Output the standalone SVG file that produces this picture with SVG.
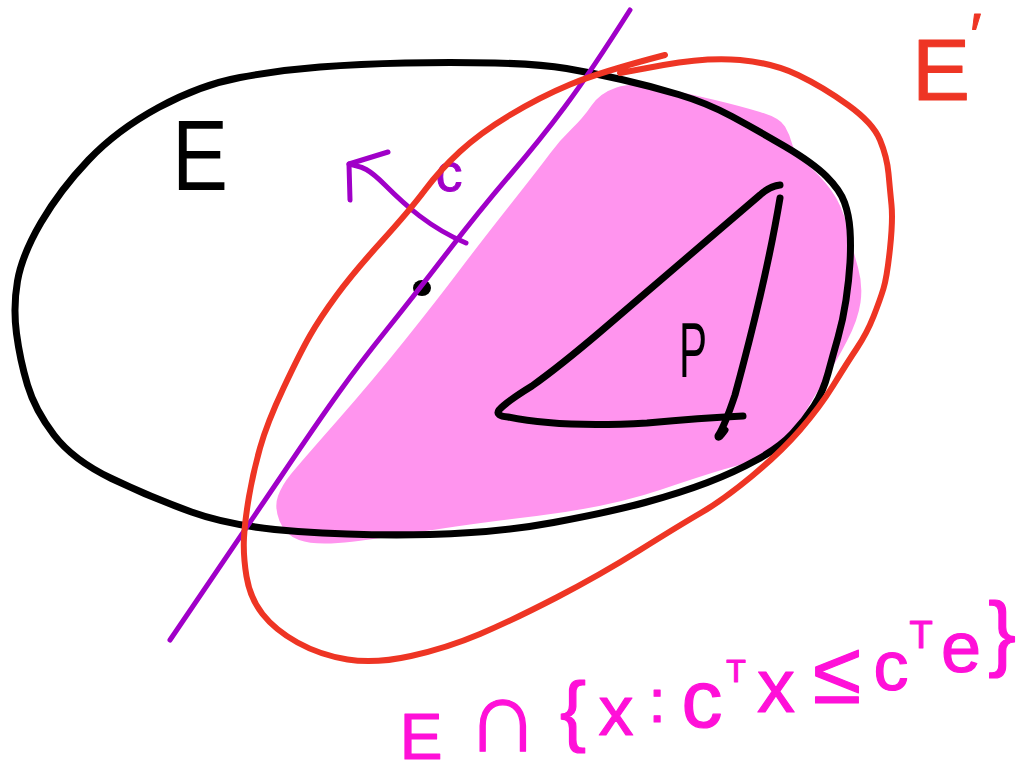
<svg xmlns="http://www.w3.org/2000/svg" width="1030" height="774" viewBox="0 0 1030 774">
<style>
.ink{fill:none;stroke-linecap:round;stroke-linejoin:round}
.blk{stroke:#000;stroke-width:7}
.red{stroke:#ee3524;stroke-width:6}
.pur{stroke:#a000c8;stroke-width:5}
.t{font-family:"Liberation Sans",Arial,sans-serif;stroke-linejoin:round}
.mag{fill:#ff10d8;stroke:#ff10d8;stroke-width:1.2}
</style>
<rect width="1030" height="774" fill="#fff"/>
<g id="region-pink">
<path fill="#ff94ee" d="M 591.5,105.5 Q 600,93 616.5,87.5 Q 633,82 661.5,88 Q 690,94 715,100 Q 740,106 760,112 Q 780,118 785,126.5 Q 790,135 792.5,145 Q 795,155 807.5,165 Q 820,175 831,190 Q 842,205 847.5,227.5 Q 853,250 858,267.5 Q 863,285 860.5,302.5 Q 858,320 847,341 Q 836,362 825.5,378.5 Q 815,395 805,412.5 Q 795,430 780,444 Q 765,458 739,465 Q 713,472 661.5,489.5 Q 610,507 536.5,516 Q 463,525 413,533 Q 363,541 338,543 Q 313,545 299,540 Q 285,535 279.5,521 Q 274,507 278,496 Q 282,485 291,474 Q 300,463 336.5,421.5 Q 373,380 405,340 Q 437,300 458.5,271.5 Q 480,243 510,205 Q 540,167 550,153.5 Q 560,140 571.5,129 Q 583,118 591.5,105.5 Z"/>
</g>
<g id="ellipse-E">
<path class="ink blk" d="M 621.5,79.5 Q 650,86 678.5,94.5 Q 707,103 732,116.5 Q 757,130 785,146.5 Q 813,163 826.5,176.5 Q 840,190 844.5,202.5 Q 849,215 850,230 Q 851,245 850,262.5 Q 849,280 846,300 Q 843,320 838,337.5 Q 833,355 828,373.5 Q 823,392 814,406 Q 805,420 792.5,433.5 Q 780,447 757.5,459.5 Q 735,472 707.5,482.5 Q 680,493 645,502.5 Q 610,512 553.5,522.5 Q 497,533 430,534.5 Q 363,536 298,531.5 Q 233,527 191.5,512 Q 150,497 111.5,478.5 Q 73,460 54,435 Q 35,410 27.5,385 Q 20,360 16.5,333.5 Q 13,307 17.5,281 Q 22,255 41,222.5 Q 60,190 88.5,160 Q 117,130 158.5,107.5 Q 200,85 240,77.5 Q 280,70 320,67 Q 360,64 405,63 Q 450,62 495,63 Q 540,64 566.5,68.5 Q 593,73 621.5,79.5 Z"/>
<text class="t" x="172" y="190" font-size="100" textLength="56" lengthAdjust="spacingAndGlyphs" fill="#000">E</text>
<ellipse cx="422" cy="288" rx="9" ry="8" fill="#000"/>
</g>
<g id="hyperplane">
<path class="ink pur" d="M 630,10 Q 590,73 565,106.5 Q 540,140 510,175 Q 480,210 446.5,253.5 Q 413,297 386.5,330 Q 360,363 338.5,393 Q 317,423 280,478 Q 243,533 170,640"/>
</g>
<g id="connectors">
<g id="arrow-c">
<path class="ink pur" d="M 466,243 C 430,228 405,205 385,185 S 360,167 349,164"/>
<path class="ink pur" d="M 388,152 L 349,164 L 350,200"/>
<text class="t" x="449" y="191" font-size="54" text-anchor="middle" fill="#a000c8" stroke="#a000c8" stroke-width="1">c</text>
</g>
</g>
<g id="ellipse-E-prime">
<path class="ink red" d="M 665,55 Q 600,72 570,84.5 Q 540,97 510,115 Q 480,133 460,151.5 Q 440,170 425,190 Q 410,210 381.5,241.5 Q 353,273 336.5,295.5 Q 320,318 310,335.5 Q 300,353 283.5,388 Q 267,423 260,448 Q 253,473 249,496.5 Q 245,520 244,537.5 Q 243,555 246.5,576.5 Q 250,598 262.5,614 Q 275,630 297.5,642.5 Q 320,655 347.5,659.5 Q 375,664 411,656 Q 447,648 480,634 Q 513,620 556.5,597.5 Q 600,575 640,550 Q 680,525 701.5,512.5 Q 723,500 751.5,476.5 Q 780,453 800,430 Q 820,407 833.5,385 Q 847,363 857,348 Q 867,333 873.5,316.5 Q 880,300 883.5,288.5 Q 887,277 890,248.5 Q 893,220 891.5,205 Q 890,190 888.5,173.5 Q 887,157 880,140 Q 873,123 848,105 Q 823,87 798,75 Q 773,63 740,60 Q 707,57 663.5,65 L 620,73"/>
<text class="t" x="912" y="100" font-size="87" fill="#ee3524" stroke="#ee3524" stroke-width="1">E<tspan x="970" y="56" font-size="62">′</tspan></text>
</g>
<g id="polytope-P">
<path class="ink blk" stroke-width="6" d="M 780,185 Q 770,186 760,195 L 600,332 Q 560,366 532,386 Q 506,402 499,410 Q 495,416 508,417 Q 560,428 647,423 Q 700,418 743,416"/>
<path class="ink blk" stroke-width="6" d="M 780,198 C 768,270 750,340 735,395 Q 725,425 718,436 Q 718,440 725,430"/>
<text class="t" x="679" y="377" font-size="78" textLength="28" lengthAdjust="spacingAndGlyphs" fill="#000">P</text>
</g>
<g id="label-intersection">
<text class="t mag" text-anchor="middle"><tspan x="421" y="759" font-size="64">E</tspan><tspan x="503" y="751" font-size="102">∩</tspan><tspan x="573" y="737" font-size="78">{</tspan><tspan x="616" y="735" font-size="70">x</tspan><tspan x="657" y="722" font-size="62">:</tspan><tspan x="702" y="727" font-size="82">c</tspan><tspan x="736" y="682" font-size="32">T</tspan><tspan x="776" y="712" font-size="76">x</tspan><tspan x="837" y="703" font-size="88">≤</tspan><tspan x="891" y="690" font-size="70">c</tspan><tspan x="921" y="648" font-size="38">T</tspan><tspan x="961" y="672" font-size="72">e</tspan><tspan x="1002" y="661" font-size="83">}</tspan></text>
</g>
</svg>
